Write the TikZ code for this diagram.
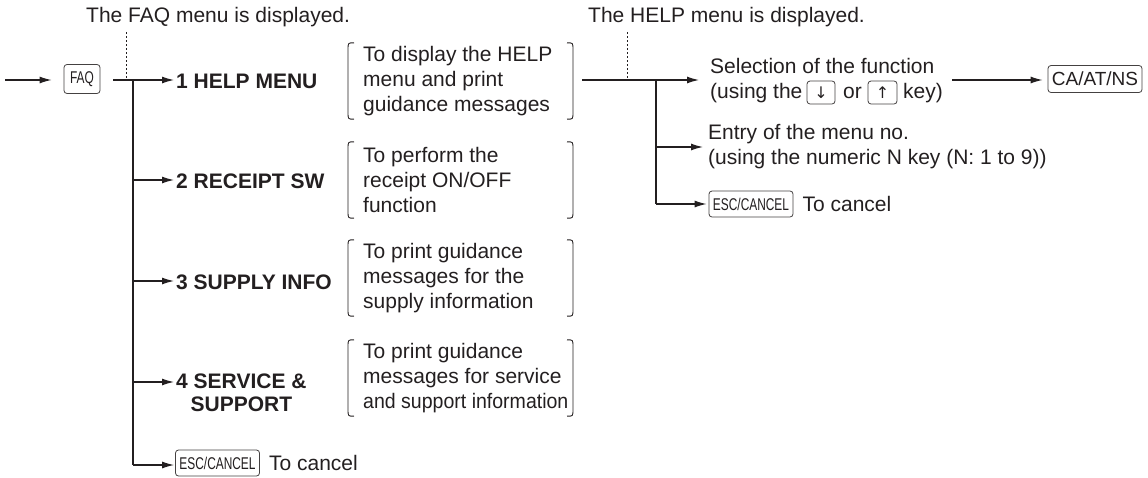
\documentclass[tikz,border=0pt]{standalone}
\usepackage{fontspec}
\usepackage{graphicx}
\setmainfont{Liberation Sans}
\newfontfamily\keyfont[FakeStretch=0.7]{Liberation Sans}
\newfontfamily\symfont{DejaVu Sans}
\usetikzlibrary{arrows.meta,positioning,calc}
\definecolor{ink}{HTML}{231F20}
\begin{document}
\begin{tikzpicture}[x=1pt,y=-1pt,
  font=\fontsize{21}{25}\selectfont, text=ink,
  ln/.style={line width=1.2pt, draw=ink},
  arr/.style={ln, -{Latex[length=12pt,width=7pt]}},
  dots/.style={line width=1pt, draw=ink, dash pattern=on 1.5pt off 2.5pt},
  brk/.style={line width=0.9pt, draw=ink},
  key/.style={draw=ink!85, line width=0.8pt, rounded corners=3pt, inner sep=0pt,
    font=\keyfont\fontsize{17}{17}\selectfont},
  menu/.style={font=\bfseries\fontsize{21}{23}\selectfont, inner sep=2pt, anchor=west},
  desc/.style={minimum height=76pt, inner xsep=0pt, inner ysep=0pt, align=left, anchor=west},
  txt/.style={inner sep=0pt, anchor=west},
]
\useasboundingbox (0,0) rectangle (1148,477);

% titles
\node[txt] (t1) at (86,17) {The FAQ menu is displayed.};
\node[txt] (t2) at (588,17) {The HELP menu is displayed.};

% left part
\coordinate (in) at (5,80);
\node[key, minimum width=36pt, minimum height=29pt] (faq) at (82,79) {FAQ};
\coordinate (f1) at (113,80);
\coordinate (dt) at (126,32);
\coordinate (dv) at (126,80);
\coordinate (bv) at (133,80);
\coordinate (b2) at (133,180);
\coordinate (b3) at (133,281);
\coordinate (b4) at (133,382);
\coordinate (b5) at (133,465);

\node[menu] (m1) at (174,81) {1 HELP MENU};
\node[menu] (m2) at (174,181) {2 RECEIPT SW};
\node[menu] (m3) at (174,282) {3 SUPPLY INFO};
\node[menu, align=center] (m4) at (174,393) {4 SERVICE \&\\SUPPORT};
\node[key, minimum width=84pt, minimum height=26pt] (e1) at (217.5,463) {ESC/CANCEL};
\node[txt] (c1) at ([xshift=9pt]e1.east) {To cancel};

\draw[arr] (in) -- ([xshift=-12pt]in -| faq.west);
\draw[ln] (f1) -- (bv);
\draw[dots] (dt) -- (dv);
\draw[ln] (bv) -- (b5);
\draw[arr] (bv) -- (bv -| m1.west);
\draw[arr] (b2) -- (b2 -| m2.west);
\draw[arr] (b3) -- (b3 -| m3.west);
\draw[arr] (b4) -- (b4 -| m4.west);
\draw[arr] (b5) -- ([xshift=-1pt]b5 -| e1.west);

% descriptions with brackets
\node[desc] (d1) at (363,81) {To display the HELP\\menu and print\\guidance messages};
\node[desc] (d2) at (363,180) {To perform the\\receipt ON/OFF\\function};
\node[desc] (d3) at (363,278) {To print guidance\\messages for the\\supply information};
\node[desc] (d4) at (363,378) {To print guidance\\messages for service\\\scalebox{0.93}[1]{and support information}};

\coordinate (bl) at (348,0);
\coordinate (br) at (573,0);
\foreach \n in {d1,d2,d3,d4}{
  \draw[brk] ([xshift=6pt]\n.north -| bl) .. controls (\n.north -| bl) .. ([yshift=-7pt]\n.north -| bl)
    -- ([yshift=7pt]\n.south -| bl) .. controls (\n.south -| bl) .. ([xshift=6pt]\n.south -| bl);
  \draw[brk] ([xshift=-6pt]\n.north -| br) .. controls (\n.north -| br) .. ([yshift=-7pt]\n.north -| br)
    -- ([yshift=7pt]\n.south -| br) .. controls (\n.south -| br) .. ([xshift=-6pt]\n.south -| br);
}

% right part
\coordinate (h0) at (582,80);
\coordinate (hdt) at (627,32);
\coordinate (hd) at (627,80);
\coordinate (hv) at (656,80);
\coordinate (hv2) at (656,147);
\coordinate (hv3) at (656,204);
\coordinate (sa) at (699,80);

\node[txt] (s1) at (710,66) {Selection of the function};
\node[txt] (s2) at (710,93) {(using the};
\node[key, minimum width=28pt, minimum height=23pt, font=\symfont\fontsize{16}{16}\selectfont] (kd) at (821,92.5) {↓};
\node[txt] (s3) at (843,93) {or};
\node[key, minimum width=29pt, minimum height=23pt, font=\symfont\fontsize{16}{16}\selectfont] (ku) at (882.5,92.5) {↑};
\node[txt] (s4) at (903,93) {key)};
\coordinate (ca0) at (952,80);
\node[key, minimum width=94pt, minimum height=27pt, font=\fontsize{19}{19}\selectfont] (ca) at (1095,79) {CA/AT/NS};

\node[txt, align=left] (en) at (708,147) {Entry of the menu no.\\(using the numeric N key (N: 1 to 9))};
\node[key, minimum width=84pt, minimum height=26pt] (e2) at (751,204) {ESC/CANCEL};
\node[txt] (c2) at ([xshift=9pt]e2.east) {To cancel};

\draw[ln] (h0) -- (hv);
\draw[arr] (hv) -- (sa);
\draw[dots] (hdt) -- (hd);
\draw[ln] (hv) -- (hv3);
\draw[arr] (hv2) -- ([xshift=-5pt]hv2 -| en.west);
\draw[arr] (hv3) -- ([xshift=-2pt]hv3 -| e2.west);
\draw[arr] (ca0) -- ([xshift=-5pt]ca0 -| ca.west);
\end{tikzpicture}
\end{document}
